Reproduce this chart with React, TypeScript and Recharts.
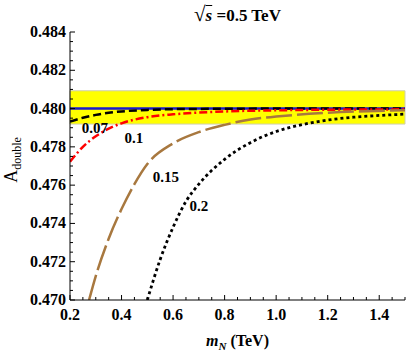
import React from "react";
import {
  LineChart,
  Line,
  XAxis,
  YAxis,
  CartesianGrid,
  ReferenceArea,
  ReferenceDot,
} from "recharts";

// x = m_N (TeV), y = A_double
const X_MAJOR = [0.2, 0.4, 0.6, 0.8, 1.0, 1.2, 1.4];
const Y_MAJOR = [0.47, 0.472, 0.474, 0.476, 0.478, 0.48, 0.482, 0.484];

// SM value and its band
const smMass = [0.2, 1.5];
const smValue = [0.48, 0.48];
const bandLow = 0.47919;
const bandHigh = 0.48093;

// curves labelled by mixing value
const mass007 = [0.2, 0.25, 0.3, 0.35, 0.4, 0.5, 0.6, 0.8, 1.0, 1.2, 1.5];
const val007 = [0.47932, 0.47952, 0.47967, 0.47978, 0.47985, 0.47993, 0.47997, 0.47999, 0.48, 0.48, 0.48];

const mass01 = [0.2, 0.25, 0.3, 0.35, 0.4, 0.5, 0.6, 0.7, 0.8, 1.0, 1.2, 1.5];
const val01 = [0.47722, 0.478, 0.47855, 0.47895, 0.47923, 0.47955, 0.4797, 0.47979, 0.47985, 0.47991, 0.47994, 0.47996];

const mass015 = [0.274, 0.3, 0.35, 0.4, 0.45, 0.5, 0.6, 0.7, 0.8, 0.9, 1.0, 1.2, 1.5];
const val015 = [0.47, 0.47125, 0.4732, 0.47475, 0.47605, 0.4771, 0.47818, 0.47877, 0.47915, 0.47943, 0.47958, 0.47978, 0.47991];

const mass02 = [0.5, 0.55, 0.6, 0.65, 0.7, 0.8, 0.9, 1.0, 1.1, 1.2, 1.3, 1.4, 1.5];
const val02 = [0.47, 0.47212, 0.4738, 0.47515, 0.47605, 0.47735, 0.47822, 0.4788, 0.47916, 0.4794, 0.47955, 0.47964, 0.47971];

const curveLabels = [
  { text: "0.07", m: 0.297, v: 0.47898 },
  { text: "0.1", m: 0.448, v: 0.47846 },
  { text: "0.15", m: 0.572, v: 0.47642 },
  { text: "0.2", m: 0.7, v: 0.47491 },
];

const toRows = (xs: number[], ys: number[]) => xs.map((m, i) => ({ m, v: ys[i] }));

// minor ticks between majors
const withMinor = (majors: number[], parts: number) => {
  const out: number[] = [];
  for (let i = 0; i < majors.length - 1; i++) {
    const step = (majors[i + 1] - majors[i]) / parts;
    for (let k = 0; k < parts; k++) out.push(+(majors[i] + k * step).toFixed(6));
  }
  out.push(majors[majors.length - 1]);
  return out;
};
const xTicks = [...withMinor(X_MAJOR, 4), 1.45, 1.5];
const yTicks = withMinor(Y_MAJOR, 4);

const isMajor = (v: number, majors: number[]) => majors.some((m) => Math.abs(m - v) < 1e-6);

const FONT = "'Liberation Serif', 'Times New Roman', serif";

const BottomTick = (p: any) => {
  const major = isMajor(p.payload.value, X_MAJOR);
  return (
    <g>
      <line x1={p.x} x2={p.x} y1={p.y} y2={p.y - (major ? 5 : 3)} stroke="#000" />
      {major && (
        <text x={p.x} y={p.y + 20} textAnchor="middle" fontFamily={FONT} fontWeight="bold" fontSize={16}>
          {p.payload.value.toFixed(1)}
        </text>
      )}
    </g>
  );
};

const TopTick = (p: any) => {
  const major = isMajor(p.payload.value, X_MAJOR);
  return <line x1={p.x} x2={p.x} y1={p.y} y2={p.y + (major ? 5 : 3)} stroke="#000" />;
};

const LeftTick = (p: any) => {
  const major = isMajor(p.payload.value, Y_MAJOR);
  return (
    <g>
      <line x1={p.x} x2={p.x + (major ? 5 : 3)} y1={p.y} y2={p.y} stroke="#000" />
      {major && (
        <text x={p.x - 4} y={p.y + 5} textAnchor="end" fontFamily={FONT} fontWeight="bold" fontSize={16}>
          {p.payload.value.toFixed(3)}
        </text>
      )}
    </g>
  );
};

const RightTick = (p: any) => {
  const major = isMajor(p.payload.value, Y_MAJOR);
  return <line x1={p.x} x2={p.x - (major ? 5 : 3)} y1={p.y} y2={p.y} stroke="#000" />;
};

export default function App() {
  return (
    <div style={{ position: "absolute", left: 0, top: 0, width: 407, height: 351, fontFamily: FONT }}>
      <div
        style={{
          position: "absolute",
          left: 70,
          width: 335,
          top: 2,
          textAlign: "center",
          fontWeight: "bold",
          fontSize: 17,
        }}
      >
        <span style={{ fontSize: 21 }}>√</span>
        <span style={{ fontStyle: "italic", textDecoration: "overline" }}>s</span> =0.5 TeV
      </div>
      <div
        style={{
          position: "absolute",
          left: 13,
          top: 160,
          transform: "translate(-50%, -50%) rotate(-90deg)",
          whiteSpace: "nowrap",
          fontSize: 18,
        }}
      >
        A<sub style={{ fontSize: 12 }}>double</sub>
      </div>
      <div
        style={{
          position: "absolute",
          left: 70,
          width: 335,
          top: 332,
          textAlign: "center",
          fontWeight: "bold",
          fontSize: 16,
        }}
      >
        <i>m</i>
        <sub style={{ fontSize: 11, fontStyle: "italic" }}>N</sub> (TeV)
      </div>
      <LineChart width={407} height={351} margin={{ top: 32, right: 2, left: 0, bottom: 0 }}>
        <CartesianGrid
          stroke="#d6d6d6"
          strokeDasharray="4 4"
          horizontalValues={Y_MAJOR}
          verticalValues={X_MAJOR}
        />
        <XAxis
          xAxisId="b"
          type="number"
          dataKey="m"
          domain={[0.2, 1.5]}
          ticks={xTicks}
          interval={0}
          height={51}
          tickSize={0}
          tickMargin={0}
          tick={BottomTick}
          axisLine={{ stroke: "#000" }}
          allowDataOverflow
        />
        <XAxis
          xAxisId="t"
          orientation="top"
          type="number"
          dataKey="m"
          domain={[0.2, 1.5]}
          ticks={xTicks}
          interval={0}
          height={0}
          tickSize={0}
          tickMargin={0}
          tick={TopTick}
          axisLine={{ stroke: "#000" }}
          allowDataOverflow
        />
        <YAxis
          yAxisId="l"
          type="number"
          domain={[0.47, 0.484]}
          ticks={yTicks}
          interval={0}
          width={70}
          tickSize={0}
          tickMargin={0}
          tick={LeftTick}
          axisLine={{ stroke: "#000" }}
          allowDataOverflow
        />
        <YAxis
          yAxisId="r"
          orientation="right"
          type="number"
          domain={[0.47, 0.484]}
          ticks={yTicks}
          interval={0}
          width={0}
          tickSize={0}
          tickMargin={0}
          tick={RightTick}
          axisLine={{ stroke: "#000" }}
          allowDataOverflow
        />
        <ReferenceArea
          xAxisId="b"
          yAxisId="l"
          y1={bandLow}
          y2={bandHigh}
          fill="#ffff00"
          fillOpacity={1}
          stroke="#cfcfb0"
          strokeWidth={1}
        />
        <Line
          xAxisId="b"
          yAxisId="l"
          data={toRows(smMass, smValue)}
          dataKey="v"
          stroke="#1a1acc"
          strokeWidth={2.5}
          dot={false}
          isAnimationActive={false}
        />
        <Line
          xAxisId="b"
          yAxisId="l"
          data={toRows(mass007, val007)}
          dataKey="v"
          type="monotone"
          stroke="#000"
          strokeWidth={2.5}
          strokeDasharray="8 4"
          dot={false}
          isAnimationActive={false}
        />
        <Line
          xAxisId="b"
          yAxisId="l"
          data={toRows(mass01, val01)}
          dataKey="v"
          type="monotone"
          stroke="#ff0000"
          strokeWidth={2.5}
          strokeDasharray="8 3 2 3"
          dot={false}
          isAnimationActive={false}
        />
        <Line
          xAxisId="b"
          yAxisId="l"
          data={toRows(mass015, val015)}
          dataKey="v"
          type="monotone"
          stroke="#a8783f"
          strokeWidth={2.5}
          strokeDasharray="26 5"
          dot={false}
          isAnimationActive={false}
        />
        <Line
          xAxisId="b"
          yAxisId="l"
          data={toRows(mass02, val02)}
          dataKey="v"
          type="monotone"
          stroke="#000"
          strokeWidth={2.8}
          strokeDasharray="3 3"
          dot={false}
          isAnimationActive={false}
        />
        {curveLabels.map((c) => (
          <ReferenceDot
            key={c.text}
            xAxisId="b"
            yAxisId="l"
            x={c.m}
            y={c.v}
            r={0}
            fill="none"
            stroke="none"
            label={{
              value: c.text,
              position: "center",
              fontFamily: FONT,
              fontWeight: "bold",
              fontSize: 15,
              fill: "#000",
            }}
          />
        ))}
      </LineChart>
    </div>
  );
}
